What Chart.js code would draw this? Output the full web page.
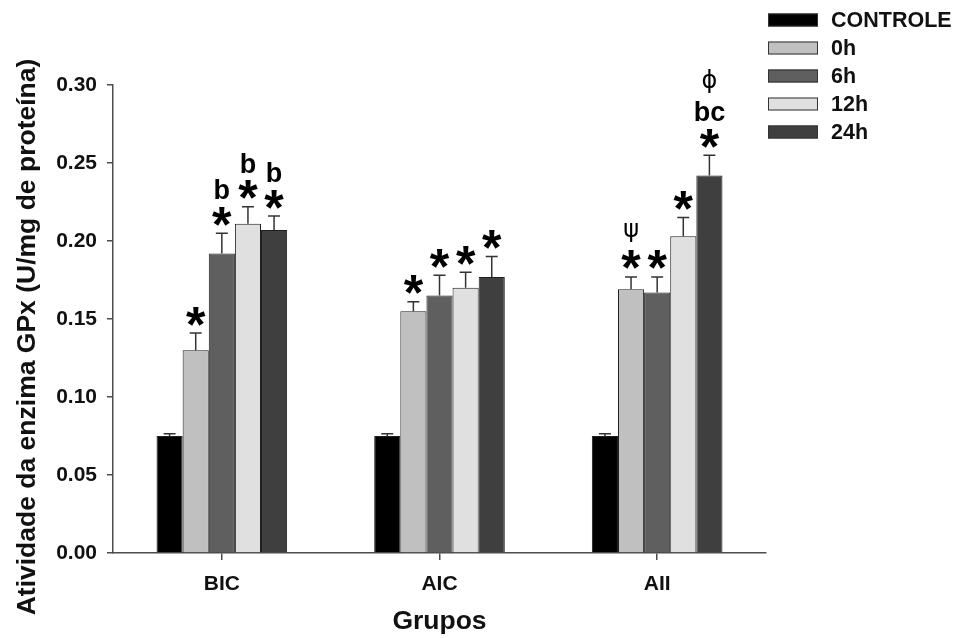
<!DOCTYPE html>
<html>
<head>
<meta charset="utf-8">
<script src="https://cdn.jsdelivr.net/npm/chart.js@4.4.1/dist/chart.umd.min.js"></script>
<style>
  html, body { margin: 0; padding: 0; background: #fff; }
  #wrap { width: 956px; height: 638px; position: relative; }
</style>
</head>
<body>
<div id="wrap"><canvas id="chart" width="956" height="638"></canvas></div>
<script>
// --- Data ---
const groups = ['BIC', 'AIC', 'AII'];
const seriesNames = ['CONTROLE', '0h', '6h', '12h', '24h'];
const seriesColors = ['#000000', '#c0c0c0', '#5f5f5f', '#e0e0e0', '#3f3f3f'];

const controle = [0.075, 0.075, 0.075];
const h0 = [0.130, 0.155, 0.169];
const h6 = [0.192, 0.165, 0.167];
const h12 = [0.211, 0.170, 0.203];
const h24 = [0.207, 0.177, 0.242];

// error (upper SEM)
const errControle = [0.0015, 0.0015, 0.0015];
const err0 = [0.011, 0.006, 0.008];
const err6 = [0.013, 0.013, 0.010];
const err12 = [0.011, 0.010, 0.012];
const err24 = [0.009, 0.013, 0.013];

// significance marks stacked above each bar (bottom to top)
const marksControle = [[], [], []];
const marks0 = [['*'], ['*'], ['*', 'ψ']];
const marks6 = [['*', 'b'], ['*'], ['*']];
const marks12 = [['*', 'b'], ['*'], ['*']];
const marks24 = [['*', 'b'], ['*'], ['*', 'bc', 'ϕ']];

const yTicks = [0, 0.05, 0.10, 0.15, 0.20, 0.25, 0.30];
const yTitle = 'Atividade da enzima GPx (U/mg de proteína)';
const xTitle = 'Grupos';

const values = [controle, h0, h6, h12, h24];
const errors = [errControle, err0, err6, err12, err24];
const marks = [marksControle, marks0, marks6, marks12, marks24];

const FONT = "'Liberation Sans', Arial, sans-serif";

// draw text with its glyph box centred on (x, cy)
function centredText(ctx, txt, x, cy) {
    ctx.textBaseline = 'alphabetic';
    const m = ctx.measureText(txt);
    const off = (m.actualBoundingBoxAscent - m.actualBoundingBoxDescent) / 2;
    ctx.fillText(txt, x, cy + off);
}

// --- Plugins ---
const errorBars = {
    id: 'errorBars',
    afterDatasetsDraw(chart) {
        const ctx = chart.ctx;
        const y = chart.scales.y;
        ctx.save();
        ctx.strokeStyle = '#333';
        ctx.lineWidth = 1.5;
        chart.data.datasets.forEach((ds, i) => {
            const meta = chart.getDatasetMeta(i);
            meta.data.forEach((bar, j) => {
                const top = y.getPixelForValue(ds.data[j] + errors[i][j]);
                ctx.beginPath();
                ctx.moveTo(bar.x, bar.y);
                ctx.lineTo(bar.x, top);
                ctx.moveTo(bar.x - 6, top);
                ctx.lineTo(bar.x + 6, top);
                ctx.stroke();

                // marks, cy = centre of current mark
                let cy = top - 17;
                marks[i][j].forEach((m) => {
                    ctx.fillStyle = '#000';
                    ctx.textAlign = 'center';
                    if (m === '*') {
                        ctx.font = 'bold 50px ' + FONT;
                        centredText(ctx, m, bar.x, cy);
                        cy -= 27;
                    } else if (m === 'ψ' || m === 'ϕ') {
                        ctx.font = '24px ' + "'DejaVu Sans', sans-serif";
                        centredText(ctx, m, bar.x, cy);
                        cy -= 30;
                    } else {
                        ctx.font = 'bold 27px ' + FONT;
                        centredText(ctx, m, bar.x, cy);
                        cy -= 30;
                    }
                });
            });
        });
        ctx.restore();
    }
};

const extras = {
    id: 'extras',
    afterDraw(chart) {
        const ctx = chart.ctx;
        ctx.save();
        // axis titles
        ctx.fillStyle = '#111';
        ctx.font = 'bold 26.5px ' + FONT;
        ctx.textAlign = 'center';
        ctx.textBaseline = 'middle';
        const area = chart.chartArea;
        ctx.fillText(xTitle, (area.left + area.right) / 2, 622);
        ctx.translate(28, 337);
        ctx.rotate(-Math.PI / 2);
        ctx.fillText(yTitle, 0, 0);
        ctx.restore();

        // legend
        ctx.save();
        chart.data.datasets.forEach((ds, i) => {
            const cy = 20 + i * 28;
            ctx.fillStyle = ds.backgroundColor;
            ctx.fillRect(768, cy - 6.5, 50, 13);
            ctx.strokeStyle = '#333';
            ctx.lineWidth = 1;
            ctx.strokeRect(768.5, cy - 6, 49, 12);
            ctx.fillStyle = '#111';
            ctx.font = 'bold 21.5px ' + FONT;
            ctx.textAlign = 'left';
            ctx.textBaseline = 'middle';
            ctx.fillText(ds.label, 831, cy + 1);
        });
        ctx.restore();
    }
};

// --- Chart ---
const ctx = document.getElementById('chart').getContext('2d');
new Chart(ctx, {
    type: 'bar',
    data: {
        labels: groups,
        datasets: seriesNames.map((name, i) => ({
            label: name,
            data: values[i],
            backgroundColor: seriesColors[i],
            borderColor: '#1e1e1e',
            borderWidth: 1,
            borderSkipped: 'bottom',
            categoryPercentage: 0.6,
            barPercentage: 1.0
        }))
    },
    options: {
        responsive: false,
        animation: false,
        layout: { padding: { top: 85, right: 190, left: 0, bottom: 0 } },
        plugins: {
            legend: { display: false },
            tooltip: { enabled: false }
        },
        scales: {
            x: {
                afterFit: (s) => { s.height = 85; },
                grid: { drawOnChartArea: false, drawTicks: true, tickLength: 7, offset: false, color: '#4d4d4d', lineWidth: 1.5 },
                border: { display: true, color: '#4d4d4d', width: 1.5 },
                ticks: { color: '#111', font: { family: FONT, size: 21, weight: 'bold' }, padding: 12 }
            },
            y: {
                min: 0,
                max: 0.30,
                afterFit: (s) => { s.width = 113; },
                afterBuildTicks: (s) => { s.ticks = yTicks.map(v => ({ value: v })); },
                grid: { drawOnChartArea: false, drawTicks: true, tickLength: 6, color: '#4d4d4d', lineWidth: 1.5 },
                border: { display: true, color: '#4d4d4d', width: 1.5 },
                ticks: {
                    color: '#111',
                    font: { family: FONT, size: 21, weight: 'bold' },
                    padding: 10,
                    callback: (v) => Number(v).toFixed(2)
                }
            }
        }
    },
    plugins: [errorBars, extras]
});
</script>
</body>
</html>
